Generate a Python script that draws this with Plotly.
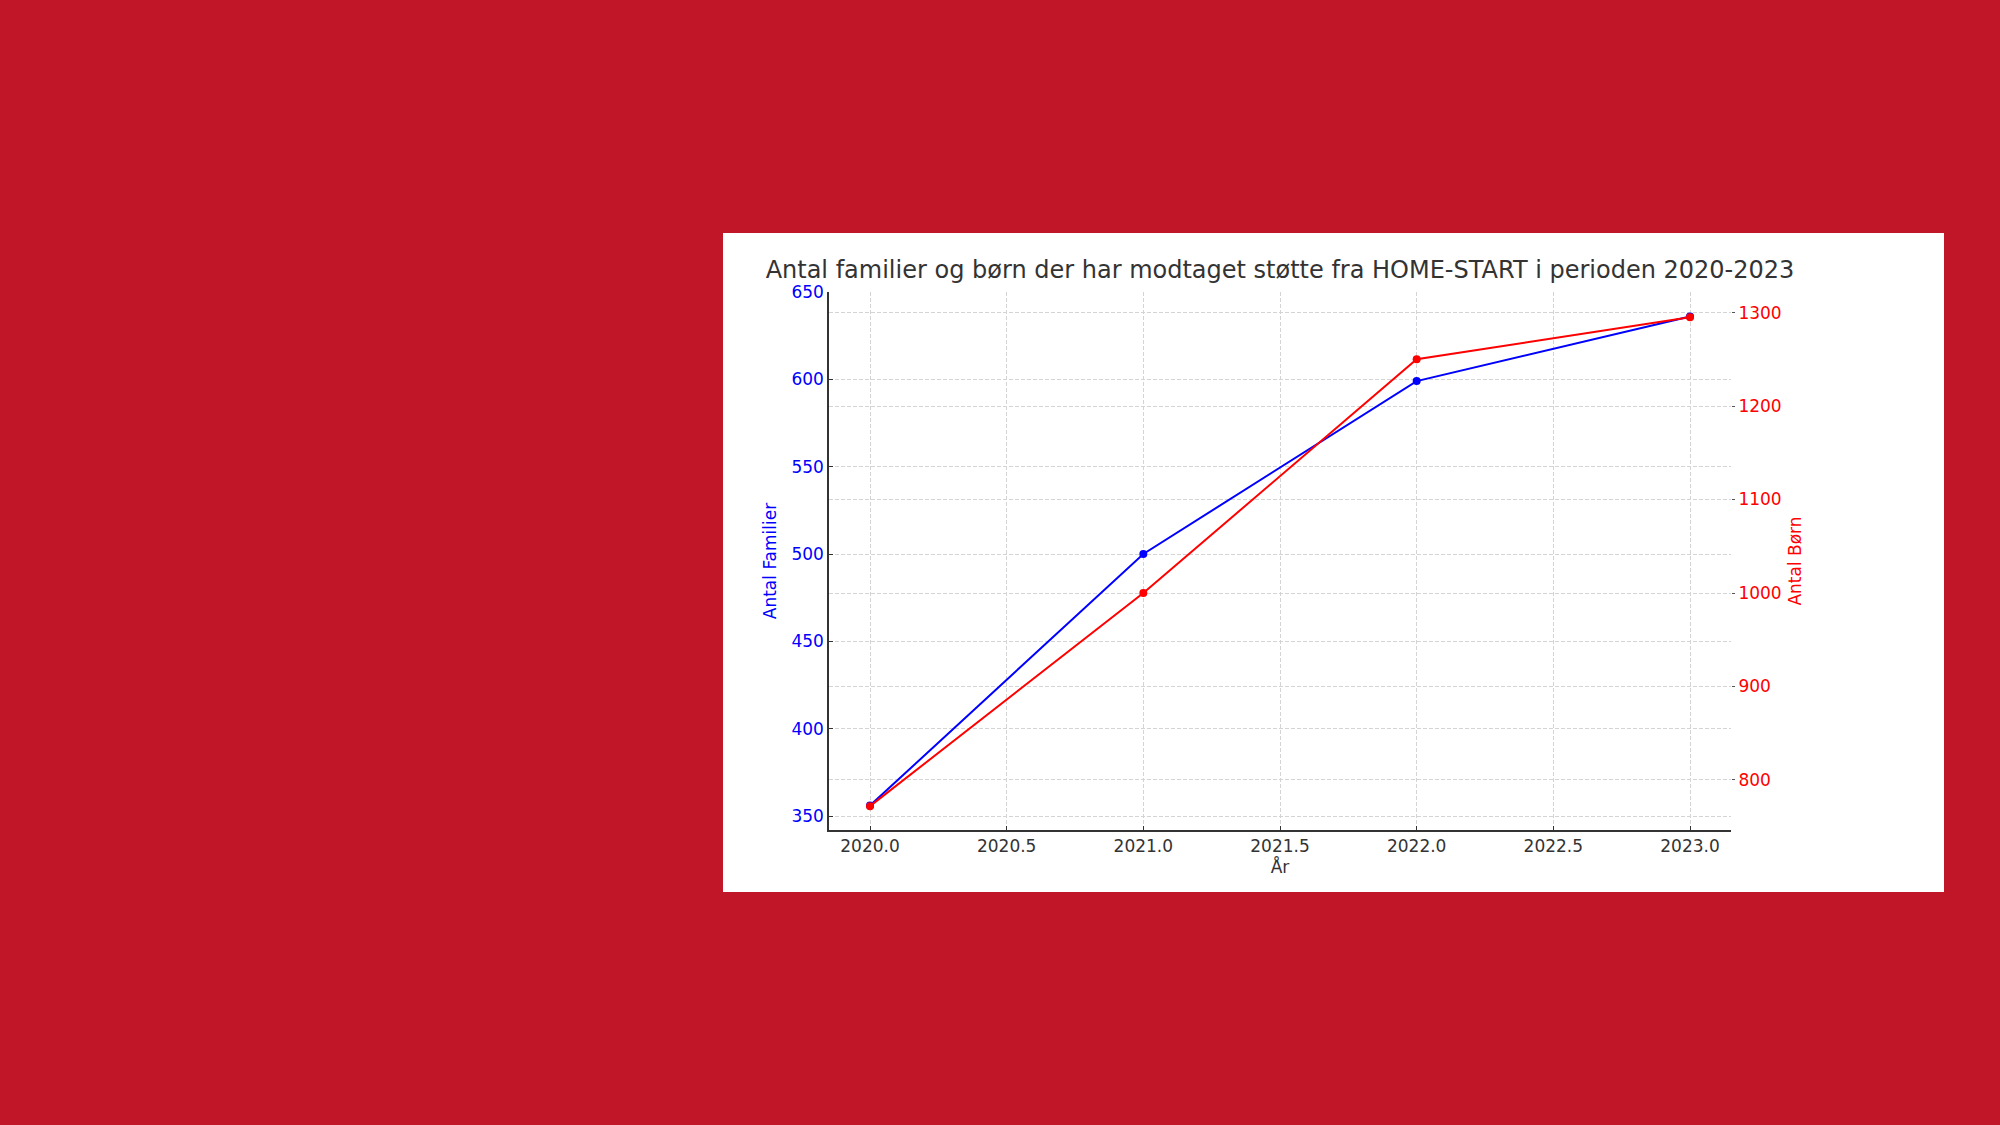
import plotly.graph_objects as go

years = [2020, 2021, 2022, 2023]
familier = [356, 500, 599, 636]
boern = [772, 1000, 1250, 1295]

title_text = "Antal familier og børn der har modtaget støtte fra HOME-START i perioden 2020-2023"
x_title = "År"
y1_title = "Antal Familier"
y2_title = "Antal Børn"

FONT = "DejaVu Sans"
W, H = 2000, 1125
L, R, T, B = 829, 1731, 292, 830
pw, ph = R - L, B - T

fig = go.Figure()
fig.add_trace(go.Scatter(x=years, y=familier, mode="lines+markers", name=y1_title,
                         line=dict(color="#0000FF", width=2),
                         marker=dict(color="#0000FF", size=8), yaxis="y"))
fig.add_trace(go.Scatter(x=years, y=boern, mode="lines+markers", name=y2_title,
                         line=dict(color="#FF0000", width=2),
                         marker=dict(color="#FF0000", size=8), yaxis="y2"))

# white card behind the chart
fig.add_shape(type="rect", xref="paper", yref="paper",
              x0=(723 - L) / pw, x1=(1944 - L) / pw,
              y0=(B - 892) / ph, y1=(B - 233) / ph,
              fillcolor="white", line=dict(width=0), layer="below")

grid = dict(showgrid=True, gridcolor="#d4d4d4", gridwidth=1, griddash="4px,2px")

fig.update_layout(
    width=W, height=H,
    margin=dict(l=L, r=W - R, t=T, b=H - B, pad=0),
    paper_bgcolor="#C01627",
    plot_bgcolor="white",
    showlegend=False,
    font=dict(family=FONT, size=17, color="#333333"),
    title=dict(text=title_text, x=0.64, xanchor="center", xref="container",
               y=1 - 270 / H, yanchor="middle", yref="container",
               font=dict(family=FONT, size=24, color="#333333")),
    xaxis=dict(range=[2019.85, 2023.15], tick0=2020, dtick=0.5, tickformat=".1f",
               showline=True, linecolor="#333333", linewidth=1.5, mirror=False,
               ticks="inside", ticklen=4, tickcolor="#333333",
               tickfont=dict(family=FONT, size=17, color="#333333"),
               title=dict(text=x_title, standoff=4, font=dict(family=FONT, size=17, color="#333333")),
               zeroline=False, **grid),
    yaxis=dict(range=[342, 650], tick0=350, dtick=50,
               showline=True, linecolor="#333333", linewidth=1.5,
               ticks="inside", ticklen=4, tickcolor="#333333",
               tickfont=dict(family=FONT, size=17, color="#0000FF"),
               title=dict(text=y1_title, standoff=10, font=dict(family=FONT, size=17, color="#0000FF")),
               zeroline=False, **grid),
    yaxis2=dict(range=[746.5, 1322], tick0=800, dtick=100, overlaying="y", side="right",
                showline=False,
                ticks="outside", ticklen=3, tickcolor="#555555",
                tickfont=dict(family=FONT, size=17, color="#FF0000"),
                title=dict(text=y2_title, standoff=8, font=dict(family=FONT, size=17, color="#FF0000")),
                zeroline=False, **grid),
)

fig.write_html("out.html", config={"displayModeBar": False},
               post_script="document.body.style.margin='0px';document.body.style.overflow='hidden';")
